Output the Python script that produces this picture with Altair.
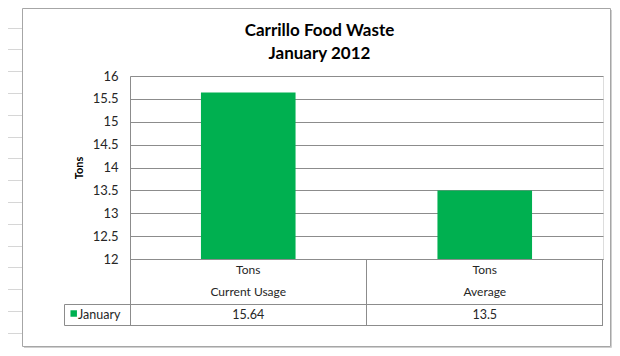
import altair as alt
import pandas as pd

# ---- data ----
categories = ["Current Usage", "Average"]
values = [15.64, 13.5]
unit = "Tons"
series = "January"
y_ticks = [12, 12.5, 13, 13.5, 14, 14.5, 15, 15.5, 16]
title_lines = ["Carrillo Food Waste", "January 2012"]

df = pd.DataFrame({"category": categories, "value": values})
one = pd.DataFrame({"k": [0]})  # single row for decorative marks

W, H = 473, 183
FONT = "Lato"
GRID = "#8c8c8c"
GREEN = "#00b050"
TXT = "#262626"

xscale = alt.Scale(paddingInner=0.6, paddingOuter=0.3)

x_axis = alt.Axis(
    title=None, orient="bottom", labelAngle=0, ticks=False,
    domain=True, domainColor=GRID, domainWidth=1,
    labelExpr=f"['{unit}', datum.label]",
    labelFont=FONT, labelFontSize=12, labelColor=TXT,
    labelLineHeight=22, labelPadding=5, labelBaseline="top",
)
y_axis = alt.Axis(
    values=y_ticks, format="~g", title=unit,
    titleFont=FONT, titleFontSize=11, titleFontWeight="bold", titleColor="#000",
    titleAngle=270, titleX=-51, titleY=H / 2, titleAlign="center",
    titleBaseline="middle",
    labelFont=FONT, labelFontSize=13, labelColor=TXT, labelPadding=12,
    ticks=False, domainColor=GRID, grid=True, gridColor=GRID, gridOpacity=1,
)

bars = alt.Chart(df).mark_bar(color=GREEN).encode(
    x=alt.X("category:N", sort=categories, scale=xscale, axis=x_axis),
    y=alt.Y("value:Q", scale=alt.Scale(domain=[y_ticks[0], y_ticks[-1]], nice=False, zero=False), axis=y_axis),
    y2=alt.datum(y_ticks[0]),
)

vals = alt.Chart(df).mark_text(font=FONT, fontSize=12.5, color=TXT, baseline="middle", align="center").encode(
    x=alt.X("category:N", sort=categories, scale=xscale),
    y=alt.value(239),
    text=alt.Text("value:Q", format="~g"),
)


def rule(x1, y1, x2, y2, color=GRID, w=1):
    return alt.Chart(one).mark_rule(color=color, strokeWidth=w).encode(
        x=alt.value(x1), x2=alt.value(x2), y=alt.value(y1), y2=alt.value(y2)
    )


layers = []
# spreadsheet background lines (left strip)
k = 0
while True:
    py = 5.8 + 21.8 * k - 76
    if py > 272:
        break
    if py > -68:
        layers.append(rule(-122, round(py) + 0.5, -108, round(py) + 0.5, color="#d6d6d6"))
    k += 1

# chart box with light shadow
box = alt.Chart(one).mark_rect(filled=False, stroke="#a6a6a6", strokeWidth=1).encode(
    x=alt.value(-107.5), x2=alt.value(480.5), y=alt.value(-67.5), y2=alt.value(270.5)
)
layers.append(box)
layers.append(rule(481.5, -66, 481.5, 271.5, color="#cfcfcf"))
layers.append(rule(-106, 271.5, 481.5, 271.5, color="#cfcfcf"))

# data table lines
layers.append(rule(-65.5, 228.5, 473, 228.5))
layers.append(rule(-65.5, 249.5, 473, 249.5))
layers.append(rule(-65.5, 228.5, -65.5, 249.5))
layers.append(rule(0.5, 183, 0.5, 249.5))
layers.append(rule(236.5, 183, 236.5, 249.5))
layers.append(rule(472.5, 183, 472.5, 249.5))

# legend key and series name
key = alt.Chart(one).mark_point(shape="square", filled=True, color=GREEN, opacity=1, size=42).encode(
    x=alt.value(-56.3), y=alt.value(237.5)
)
name = alt.Chart(one).mark_text(text=series, font=FONT, fontSize=12.5, color=TXT, align="left", baseline="middle").encode(
    x=alt.value(-52), y=alt.value(239)
)

# chart title
t1 = alt.Chart(one).mark_text(text=title_lines[0], font=FONT, fontSize=17, fontWeight="bold", color="#000",
                              align="center", baseline="middle").encode(x=alt.value(189.5), y=alt.value(-45))
t2 = alt.Chart(one).mark_text(text=title_lines[1], font=FONT, fontSize=17, fontWeight="bold", color="#000",
                              align="center", baseline="middle").encode(x=alt.value(189.5), y=alt.value(-22))

chart = alt.layer(*layers, bars, vals, key, name, t1, t2).properties(
    width=W, height=H,
    autosize=alt.AutoSizeParams(type="none"),
    padding={"left": 122, "top": 68, "right": 9, "bottom": 89},
).configure_view(stroke=None).configure(background="white")

chart.save("out.html", embed_options={"renderer": "svg", "actions": False})
